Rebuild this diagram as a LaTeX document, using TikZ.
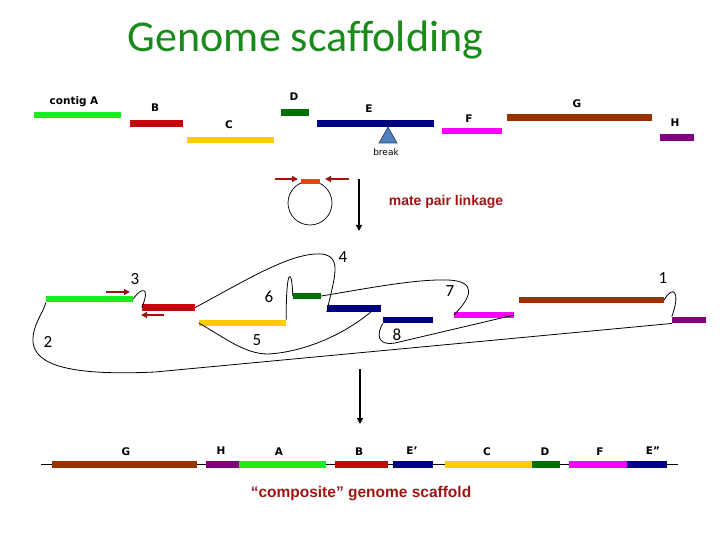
\documentclass[tikz,border=0pt]{standalone}
\usepackage{fontspec}
\setmainfont{Carlito}[Ligatures=NoCommon]
\newfontfamily\tahoma{DejaVu Sans}
\newfontfamily\arialb{Liberation Sans}
\usetikzlibrary{arrows.meta}
\definecolor{cA}{RGB}{34,234,34}
\definecolor{cB}{RGB}{196,8,8}
\definecolor{cC}{RGB}{255,204,0}
\definecolor{cD}{RGB}{0,112,0}
\definecolor{cE}{RGB}{0,0,128}
\definecolor{cF}{RGB}{255,0,255}
\definecolor{cG}{RGB}{150,52,0}
\definecolor{cH}{RGB}{128,0,128}
\definecolor{cO}{RGB}{240,64,20}
\definecolor{dred}{RGB}{160,20,20}
\definecolor{ttl}{RGB}{26,138,26}
\definecolor{trif}{RGB}{79,129,189}
\definecolor{trid}{RGB}{40,60,100}
\tikzset{
  ctg/.style={rectangle, inner sep=0pt, minimum height=6.5pt, draw=none},
  lbl/.style={font=\tahoma\bfseries\fontsize{10.5}{12}\selectfont, inner sep=0pt},
  num/.style={font=\fontsize{17}{18}\selectfont, inner sep=0pt},
  link/.style={black, line width=0.8pt},
  redarr/.style={dred, line width=1.6pt, -{Triangle[length=6pt,width=6pt]}},
  downarr/.style={black, line width=1.6pt, -{Triangle[length=6pt,width=6pt]}}
}
\begin{document}
\begin{tikzpicture}[x=1pt,y=-1pt]
\useasboundingbox (0,0) rectangle (720,540);
% title
\node[font=\fontsize{44}{50}\selectfont, text=ttl, anchor=base, inner sep=0pt] (title) at (305.5,52) {Genome scaffolding};

% ---------- top row ----------
\node[ctg,fill=cA,minimum width=87pt] (tA) at (77.5,115) {};
\node[ctg,fill=cB,minimum width=53pt] (tB) at (156.5,123.5) {};
\node[ctg,fill=cC,minimum width=87pt] (tC) at (230.5,140) {};
\node[ctg,fill=cD,minimum width=28pt] (tD) at (295,112.5) {};
\node[ctg,fill=cE,minimum width=117pt] (tE) at (375.5,123.5) {};
\node[ctg,fill=cF,minimum width=60pt] (tF) at (472,131) {};
\node[ctg,fill=cG,minimum width=145pt] (tG) at (579.5,117.5) {};
\node[ctg,fill=cH,minimum width=34pt] (tH) at (677,137.5) {};
\node[lbl] (ltA) at (74,102) {contig\,\,A};
\node[lbl] (ltB) at (155,108) {B};
\node[lbl] (ltC) at (229,125) {C};
\node[lbl] (ltD) at (294,97) {D};
\node[lbl] (ltE) at (369,109) {E};
\node[lbl] (ltF) at (469,119) {F};
\node[lbl] (ltG) at (577,104) {G};
\node[lbl] (ltH) at (675,123) {H};
\filldraw[fill=trif, draw=trid, line width=0.6pt] (388,127) -- (379,143) -- (397,143) -- cycle;
\node[font=\tahoma\fontsize{9}{10}\selectfont, inner sep=0pt] (brk) at (386,152) {break};

% ---------- circle ----------
\node[draw, circle, minimum size=44pt, inner sep=0pt, line width=0.7pt] (ring) at (310,203) {};
\node[ctg,fill=cO,minimum width=19pt,minimum height=5pt] (ringbar) at (310,181.5) {};
\coordinate (ra1s) at (275,179); \coordinate (ra1e) at (298,179);
\coordinate (ra2s) at (349,179); \coordinate (ra2e) at (325,179);
\draw[redarr] (ra1s) -- (ra1e);
\draw[redarr] (ra2s) -- (ra2e);
\coordinate (va1s) at (359,179); \coordinate (va1e) at (359,231);
\draw[downarr] (va1s) -- (va1e);
\node[font=\arialb\bfseries\fontsize{14}{16}\selectfont, text=dred, inner sep=0pt] (mpl) at (446,202) {mate pair linkage};

% ---------- middle ----------
\node[ctg,fill=cA,minimum width=87pt] (mA) at (89.5,299) {};
\node[ctg,fill=cB,minimum width=53pt] (mB) at (168.5,307.5) {};
\node[ctg,fill=cC,minimum width=87pt] (mC) at (242.5,323) {};
\node[ctg,fill=cD,minimum width=28pt] (mD) at (307,296) {};
\node[ctg,fill=cE,minimum width=54pt] (mE1) at (354,308.5) {};
\node[ctg,fill=cE,minimum width=50pt] (mE2) at (408,320) {};
\node[ctg,fill=cF,minimum width=60pt] (mF) at (484,315) {};
\node[ctg,fill=cG,minimum width=145pt] (mG) at (591.5,300) {};
\node[ctg,fill=cH,minimum width=34pt] (mH) at (689,320) {};
\coordinate (m3s) at (106,292); \coordinate (m3e) at (130,292);
\coordinate (m3bs) at (164,315); \coordinate (m3be) at (141,315);
\draw[redarr] (m3s) -- (m3e);
\draw[redarr] (m3bs) -- (m3be);

% links
\draw[link] (mG.east) .. controls (673,284) and (681,292) .. (mH.north west);
\coordinate (low) at (155,372);
\draw[link] (mH.south west) -- (low) .. controls (70,376) and (35,365) .. (33,342) .. controls (32,325) and (44,312) .. (mA.south west);
\draw[link] (mA.east) .. controls (141,287) and (151,286) .. (mB.west);
\coordinate (top4) at (322,254);
\draw[link] (mB.east) .. controls (250,278) and (292,252) .. (top4) .. controls (343,257) and (334,278) .. (mE1.south west);
\coordinate (dip5) at (268,354);
\coordinate (end5) at (372,311);
\draw[link] (mC.west) .. controls (225,338) and (245,354) .. (dip5) .. controls (305,352) and (345,334) .. (end5);
\draw[link] (mC.north east) .. controls (286,265) and (292,268) .. (mD.west);
\coordinate (top7) at (448,280);
\draw[link] (mD.east) .. controls (370,288) and (415,279) .. (top7) .. controls (476,281) and (473,296) .. (mF.west);
\coordinate (low8) at (395,343);
\draw[link] (mE2.south west) .. controls (377,333) and (376,346) .. (low8) -- (mF.east);

\node[num] (n3) at (135,279) {3};
\node[num] (n2) at (48,342) {2};
\node[num] (n6) at (269,297) {6};
\node[num] (n5) at (257,340) {5};
\node[num] (n4) at (343,257) {4};
\node[num] (n7) at (450,291) {7};
\node[num] (n8) at (397,335) {8};
\node[num] (n1) at (663,278) {1};

\coordinate (va2s) at (360,369); \coordinate (va2e) at (360,424);
\draw[downarr] (va2s) -- (va2e);

% ---------- bottom ----------
\coordinate (bl) at (41,464.5); \coordinate (br) at (678,464.5);
\draw[black, line width=0.8pt] (bl) -- (br);
\node[ctg,fill=cG,minimum width=145pt,minimum height=7pt] (bG) at (124.5,464.5) {};
\node[ctg,fill=cH,minimum width=33pt,minimum height=7pt] (bH) at (222.5,464.5) {};
\node[ctg,fill=cA,minimum width=87pt,minimum height=7pt] (bA) at (282.5,464.5) {};
\node[ctg,fill=cB,minimum width=53pt,minimum height=7pt] (bB) at (361.5,464.5) {};
\node[ctg,fill=cE,minimum width=40pt,minimum height=7pt] (bE1) at (413,464.5) {};
\node[ctg,fill=cC,minimum width=87pt,minimum height=7pt] (bC) at (488.5,464.5) {};
\node[ctg,fill=cD,minimum width=28pt,minimum height=7pt] (bD) at (546,464.5) {};
\node[ctg,fill=cF,minimum width=58pt,minimum height=7pt] (bF) at (598,464.5) {};
\node[ctg,fill=cE,minimum width=40pt,minimum height=7pt] (bE2) at (647,464.5) {};
\node[lbl] (lbG) at (126,452) {G};
\node[lbl] (lbH) at (221,451) {H};
\node[lbl] (lbA) at (279,452) {A};
\node[lbl] (lbB) at (359,452) {B};
\node[lbl] (lbE1) at (412,451) {E’};
\node[lbl] (lbC) at (487,452) {C};
\node[lbl] (lbD) at (545,452) {D};
\node[lbl] (lbF) at (600,452) {F};
\node[lbl] (lbE2) at (653,451) {E”};
\node[font=\arialb\bfseries\fontsize{15.5}{18}\selectfont, text=dred, inner sep=0pt] (comp) at (361,494) {“composite” genome scaffold};
\end{tikzpicture}
\end{document}
